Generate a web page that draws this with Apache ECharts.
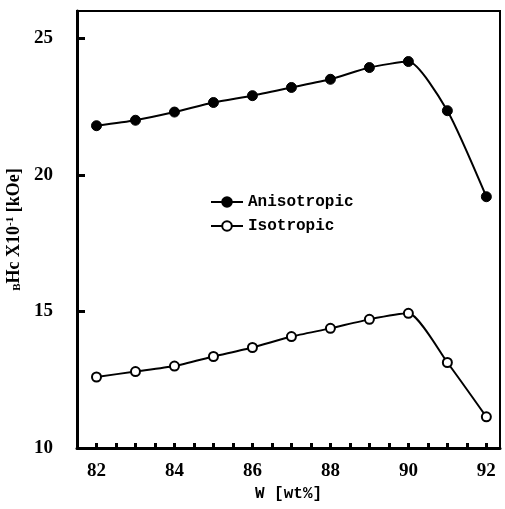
<!DOCTYPE html>
<html>
<head>
<meta charset="utf-8">
<script src="https://cdn.jsdelivr.net/npm/echarts@6/dist/echarts.min.js"></script>
<style>
  html, body { margin: 0; padding: 0; background: #fff; }
  #chart { width: 505px; height: 509px; }
</style>
</head>
<body>
<div id="chart"></div>
<script>
// W [wt%]
var wValues = [82, 83, 84, 85, 86, 87, 88, 89, 90, 91, 92];
// BHc x10^-1 [kOe]
var anisotropic = [21.8, 22.0, 22.3, 22.65, 22.9, 23.2, 23.5, 23.93, 24.15, 22.35, 19.2];
var isotropic = [12.6, 12.8, 13.0, 13.35, 13.68, 14.08, 14.38, 14.71, 14.93, 13.13, 11.14];
var xLabels = [82, 84, 86, 88, 90, 92];
var xTicks = [82, 82.5, 83, 83.5, 84, 84.5, 85, 85.5, 86, 86.5, 87, 87.5, 88, 88.5, 89, 89.5, 90, 90.5, 91, 91.5, 92];
var yLabels = [10, 15, 20, 25];

function pairs(xs, ys) {
	var out = [];
	for (var i = 0; i < xs.length; i++) {
		out.push([xs[i], ys[i]]);
	}
	return out;
}

var chart = echarts.init(document.getElementById('chart'));
var option = {
	backgroundColor: '#fff',
	animation: false,
	grid: {
		left: 77,
		right: 5,
		top: 11,
		bottom: 61,
		outerBoundsMode: 'none',
		show: true,
		borderColor: '#000',
		borderWidth: 2
	},
	legend: {
		orient: 'vertical',
		left: 205,
		top: 189,
		itemWidth: 32,
		itemHeight: 12,
		itemGap: 8,
		textStyle: {
			fontFamily: 'Liberation Mono',
			fontWeight: 'bold',
			fontSize: 16,
			color: '#000'
		},
		data: ['Anisotropic', 'Isotropic']
	},
	xAxis: {
		type: 'value',
		min: 81.5,
		max: 92.35,
		name: 'W [wt%]',
		nameLocation: 'middle',
		nameGap: 38,
		nameTextStyle: {
			fontFamily: 'Liberation Mono',
			fontWeight: 'bold',
			fontSize: 16,
			color: '#000'
		},
		axisLine: { lineStyle: { color: '#000', width: 3 } },
		axisTick: {
			inside: true,
			length: 5,
			customValues: xTicks,
			lineStyle: { color: '#000', width: 3 }
		},
		axisLabel: {
			customValues: xLabels,
			margin: 14,
			fontFamily: 'Liberation Serif',
			fontWeight: 'bold',
			fontSize: 19,
			color: '#000'
		},
		splitLine: { show: false }
	},
	yAxis: {
		type: 'value',
		min: 10,
		max: 26,
		name: '{s|B}Hc X10{sup|-1} [kOe]',
		nameLocation: 'middle',
		nameRotate: 90,
		nameGap: 53,
		nameTextStyle: {
			fontFamily: 'Liberation Serif',
			fontWeight: 'bold',
			fontSize: 18,
			color: '#000',
			rich: {
				s: { fontFamily: 'Liberation Serif', fontWeight: 'bold', fontSize: 11, color: '#000', verticalAlign: 'bottom', padding: [7, 0, 0, 0] },
				sup: { fontFamily: 'Liberation Serif', fontWeight: 'bold', fontSize: 11, color: '#000', verticalAlign: 'top', padding: [0, 0, 7, 0] }
			}
		},
		axisLine: { lineStyle: { color: '#000', width: 3 } },
		axisTick: {
			inside: true,
			length: 8,
			customValues: [15, 20, 25],
			lineStyle: { color: '#000', width: 3 }
		},
		axisLabel: {
			customValues: yLabels,
			margin: 24,
			fontFamily: 'Liberation Serif',
			fontWeight: 'bold',
			fontSize: 19,
			color: '#000'
		},
		splitLine: { show: false }
	},
	series: [
		{
			name: 'Anisotropic',
			type: 'line',
			smooth: 0.2,
			data: pairs(wValues, anisotropic),
			symbol: 'circle',
			symbolSize: 10,
			lineStyle: { color: '#000', width: 2 },
			itemStyle: { color: '#000', borderColor: '#000', borderWidth: 1 }
		},
		{
			name: 'Isotropic',
			type: 'line',
			smooth: 0.2,
			data: pairs(wValues, isotropic),
			symbol: 'circle',
			symbolSize: 9,
			lineStyle: { color: '#000', width: 2 },
			itemStyle: { color: '#fff', borderColor: '#000', borderWidth: 2 }
		}
	]
};
chart.setOption(option);
</script>
</body>
</html>
